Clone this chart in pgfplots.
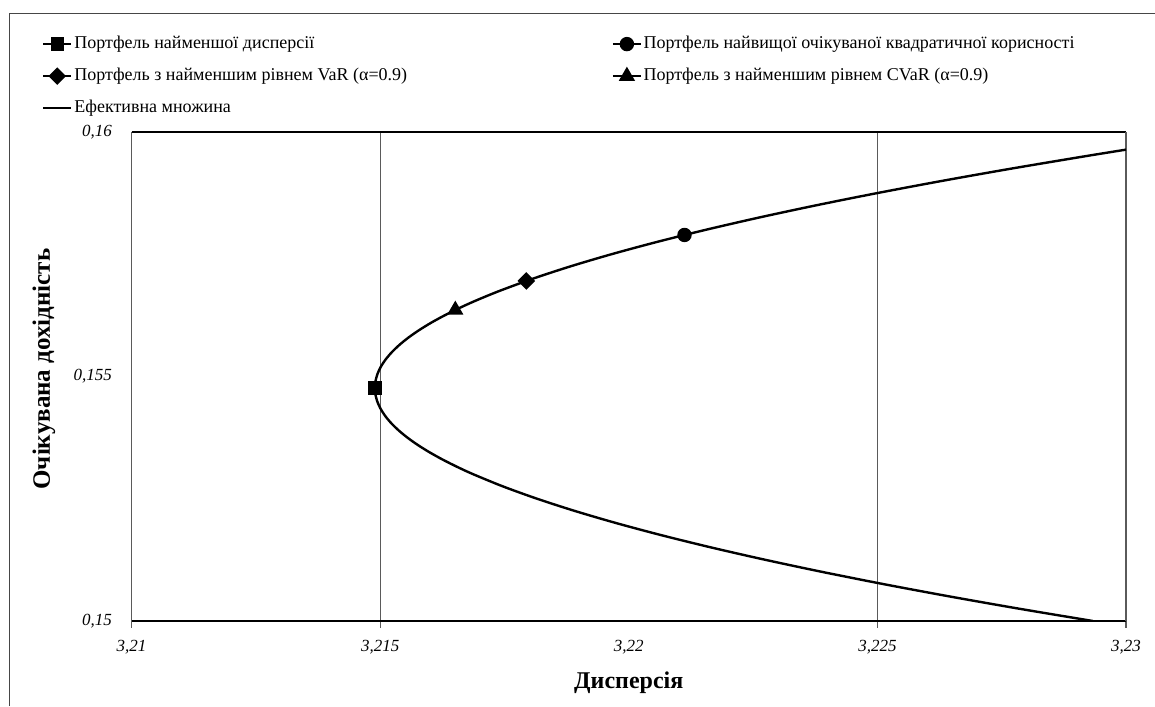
\documentclass[border=0pt]{standalone}
\usepackage{fontspec}
\setmainfont{Liberation Serif}
\usepackage{pgfplots}
\pgfplotsset{compat=1.18}
\definecolor{gridc}{RGB}{90,90,90}
\definecolor{framec}{RGB}{70,70,70}

\begin{document}
\begin{tikzpicture}[x=1pt,y=1pt]
\path[use as bounding box] (0,0) rectangle (1155,706);
% outer chart frame (top and left edges)
\draw[line width=1.6pt, framec] (9.5,0) -- (9.5,692.5) -- (1155,692.5);
\begin{axis}[
  at={(131.5pt,85pt)}, anchor=south west,
  width=994.5pt, height=489pt, scale only axis,
  xmin=3.21, xmax=3.23, ymin=0.15, ymax=0.16,
  separate axis lines,
  x axis line style={black, line width=2.2pt},
  y axis line style={gridc, line width=1.3pt},
  xtick={3.21,3.215,3.225,3.23},
  extra x ticks={3.22},
  extra x tick style={grid=none, tick style={draw=none}},
  ytick={0.15,0.155,0.16},
  xmajorgrids,
  major grid style={gridc, line width=1.1pt},
  xtick pos=bottom, ytick pos=left,
  tick align=outside,
  major tick length=7pt,
  xtick style={gridc, line width=1.2pt},
  ytick style={draw=none},
  scaled ticks=false,
  /pgf/number format/.cd, use comma, fixed, precision=3, assume math mode=true,
  /pgfplots/.cd,
  xticklabel style={font=\fontsize{17}{20}\selectfont\itshape, yshift=-9pt},
  yticklabel style={font=\fontsize{17}{20}\selectfont\itshape, xshift=-9pt},
  xlabel={Дисперсія},
  xlabel style={font=\fontsize{24}{28}\selectfont\bfseries, at={(axis description cs:0.5,-0.127)}, anchor=center},
  ylabel={Очікувана дохідність},
  ylabel style={font=\fontsize{25}{28}\selectfont\bfseries, at={(axis description cs:-0.088,0.515)}, anchor=center},
  legend columns=2,
  legend cell align=left,
  legend image code/.code={\draw[mark repeat=2,mark phase=2,#1] plot coordinates {(0pt,0pt) (14pt,0pt) (28pt,0pt)};},
  legend style={
    at={(axis description cs:-0.090,1.1965)}, anchor=north west,
    draw=none, fill=none, inner sep=0pt,
    font=\fontsize{18}{21}\selectfont,
    nodes={inner sep=0pt, text height=12pt, text depth=4pt},
    column sep=2pt, row sep=16pt,
    /tikz/every even column/.append style={column sep=205pt},
  },
]
% efficient frontier
\addplot[black, line width=2.4pt, smooth, no markers, forget plot] coordinates {
  (3.229334,0.15000) (3.227859,0.15025) (3.226463,0.15050) (3.225146,0.15075)
  (3.223909,0.15100) (3.222752,0.15125) (3.221674,0.15150) (3.220675,0.15175)
  (3.219756,0.15200) (3.218917,0.15225) (3.218157,0.15250) (3.217476,0.15275)
  (3.216875,0.15300) (3.216553,0.15315) (3.216259,0.15330) (3.215994,0.15345)
  (3.215757,0.15360) (3.215549,0.15375) (3.215370,0.15390) (3.215219,0.15405)
  (3.215097,0.15420) (3.215004,0.15435) (3.214939,0.15450) (3.214902,0.15465)
  (3.214894,0.154765) (3.214906,0.15490) (3.214946,0.15505) (3.215014,0.15520)
  (3.215112,0.15535) (3.215238,0.15550) (3.215392,0.15565) (3.215575,0.15580)
  (3.215787,0.15595) (3.216027,0.15610) (3.216297,0.15625) (3.216594,0.15640)
  (3.216920,0.15655) (3.217400,0.15675) (3.218071,0.15700) (3.218821,0.15725)
  (3.219651,0.15750) (3.220561,0.15775) (3.221550,0.15800) (3.222618,0.15825)
  (3.223766,0.15850) (3.224994,0.15875) (3.226301,0.15900) (3.227687,0.15925)
  (3.229153,0.15950) (3.230000,0.159639)
};
% minimum variance portfolio
\addplot[black, line width=1.4pt, mark=square*, mark size=6pt, mark options={solid}] coordinates {(3.214894,0.154765)};
\addlegendentry{Портфель найменшої дисперсії}
% maximum expected quadratic utility portfolio
\addplot[black, line width=1.4pt, mark=*, mark size=6.5pt, mark options={solid}] coordinates {(3.221121,0.157894)};
\addlegendentry{Портфель найвищої очікуваної квадратичної корисності}
% minimum VaR portfolio
\addplot[black, line width=1.4pt, mark=square*, mark size=5.5pt, mark options={solid, rotate=45}] coordinates {(3.217939,0.156953)};
\addlegendentry{Портфель з найменшим рівнем VaR (α=0.9)}
% minimum CVaR portfolio
\addplot[black, line width=1.4pt, mark=triangle*, mark size=8pt, mark options={solid}] coordinates {(3.216512,0.156360)};
\addlegendentry{Портфель з найменшим рівнем CVaR (α=0.9)}
\addlegendimage{black, line width=2.2pt, no markers}
\addlegendentry{Ефективна множина}
\end{axis}
\end{tikzpicture}
\end{document}
